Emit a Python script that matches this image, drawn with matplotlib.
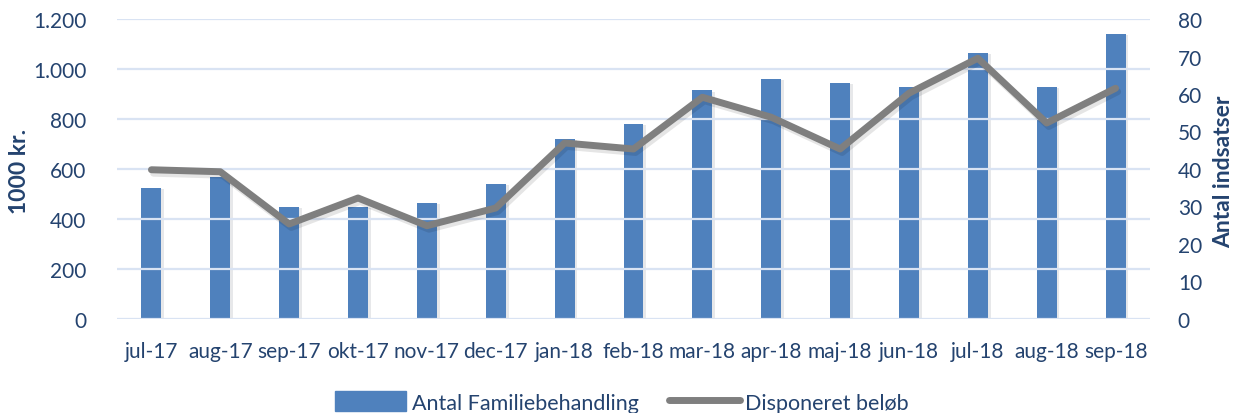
import matplotlib
matplotlib.use("Agg")
import matplotlib.pyplot as plt
import matplotlib.patheffects as pe
from matplotlib.patches import Patch
from matplotlib.lines import Line2D

months = ["jul-17", "aug-17", "sep-17", "okt-17", "nov-17", "dec-17", "jan-18",
          "feb-18", "mar-18", "apr-18", "maj-18", "jun-18", "jul-18", "aug-18", "sep-18"]
antal_familiebehandling = [35, 38, 30, 30, 31, 36, 48, 52, 61, 64, 63, 62, 71, 62, 76]
disponeret_beloeb = [597, 589, 380, 484, 373, 444, 704, 680, 887, 807, 680, 903, 1043, 784, 923]

left_ticks = [0, 200, 400, 600, 800, 1000, 1200]
left_labels = ["0", "200", "400", "600", "800", "1.000", "1.200"]
right_ticks = [0, 10, 20, 30, 40, 50, 60, 70, 80]

TXT = "#24436F"
BAR = "#4F81BD"
LINE = "#7F7F7F"
GRID = "#D9E3F3"
FONT = "Lato"
FS = 15

fig = plt.figure(figsize=(12.35, 4.14), dpi=100)
ax = fig.add_axes([117/1235, 1-320/414, (1150-117)/1235, 300/414])
x = list(range(len(months)))
ax.bar(x, antal_familiebehandling, width=0.29, color=BAR, zorder=2,
       path_effects=[pe.SimplePatchShadow(offset=(2, -1), alpha=0.10), pe.Normal()])
ax.set_ylim(0, 80)
ax.set_xlim(-0.5, len(months) - 0.5)

ax2 = ax.twinx()
ax.yaxis.tick_right()
ax.yaxis.set_label_position("right")
ax2.yaxis.tick_left()

ax.set_yticks(right_ticks)
ax.set_yticklabels([str(t) for t in right_ticks])
ax.set_xticks(x)
ax.set_xticklabels(months)
for s in ax.spines.values():
    s.set_visible(False)
ax.tick_params(axis="both", length=0, labelsize=FS, labelcolor=TXT)
ax.tick_params(axis="x", pad=16)
ax.tick_params(axis="y", pad=20, left=False, labelleft=False, right=False, labelright=True)
for lab in ax.get_xticklabels() + ax.get_yticklabels():
    lab.set_fontfamily(FONT)

ax2.plot(x, disponeret_beloeb, color=LINE, lw=5, solid_capstyle="round",
         solid_joinstyle="round", zorder=3,
         path_effects=[pe.SimpleLineShadow(offset=(1.5, -2.5), alpha=0.10, shadow_color="black"), pe.Normal()])
ax2.set_ylim(0, 1200)
ax2.set_yticks(left_ticks)
ax2.set_yticklabels(left_labels)
ax2.grid(axis="y", color=GRID, lw=1.6, zorder=1)
ax2.set_axisbelow(True)
for s in ax2.spines.values():
    s.set_visible(False)
ax2.tick_params(axis="both", length=0, labelsize=FS, labelcolor=TXT)
ax2.tick_params(axis="y", pad=22, left=False, labelleft=True, right=False, labelright=False)
for lab in ax2.get_yticklabels():
    lab.set_fontfamily(FONT)

fig.text(20/1235, 1-171/414, "1000 kr.", rotation=90, ha="center", va="center",
         fontsize=16.5, fontweight="bold", color=TXT, fontfamily=FONT)
fig.text(1224/1235, 1-172/414, "Antal indsatser", rotation=90, ha="center", va="center",
         fontsize=16.5, fontweight="bold", color=TXT, fontfamily=FONT)

handles = [Patch(facecolor=BAR, edgecolor=BAR),
           Line2D([0], [0], color=LINE, lw=5, solid_capstyle="round")]
leg = fig.legend(handles, ["Antal Familiebehandling", "Disponeret beløb"],
                 loc="center", bbox_to_anchor=(622/1235, 1-403/414), ncol=2,
                 frameon=False, handlelength=3.3, handleheight=1.0, columnspacing=1.4,
                 handletextpad=0.25, prop={"family": FONT, "size": 15.5})
for t in leg.get_texts():
    t.set_color(TXT)

fig.savefig("out.png", dpi=100)
